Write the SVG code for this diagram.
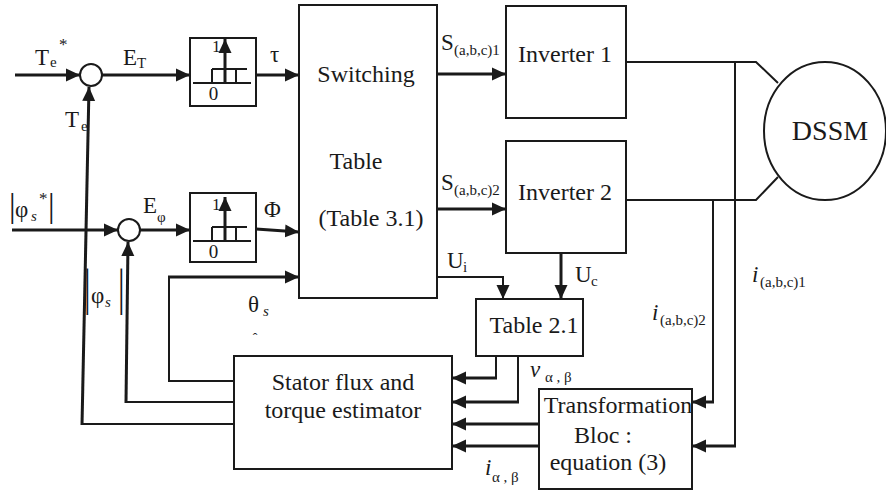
<svg xmlns="http://www.w3.org/2000/svg" width="886" height="491" viewBox="0 0 886 491" font-family="Liberation Serif, DejaVu Serif, serif">
<defs>
<style>
.box{fill:#fff;stroke:#1a1a1a;stroke-width:2}
.w{fill:none;stroke:#1a1a1a;stroke-width:2}
.t{fill:none;stroke:#1a1a1a;stroke-width:3}
.a{marker-end:url(#ah)}
text{font-family:Liberation Serif, DejaVu Serif, serif;fill:#1a1a1a}
.big{font-size:24px}
.lbl{font-size:23px}
.sub{font-size:15px}
.it{font-style:italic}
</style>
<marker id="ah" markerWidth="14" markerHeight="14" refX="14" refY="7" orient="auto" markerUnits="userSpaceOnUse">
<path d="M0,0.5 L14,7 L0,13.5 z" fill="#1a1a1a"/>
</marker>
<g id="hyst">
<path class="w" d="M3,45 H61 M22,31 H57 M22,31 V45 M46,31 V45" stroke-width="1.5"/>
<path class="t a" d="M35,45 V1"/>
<text x="22" y="14" font-size="17">1</text>
<text x="23.5" y="62" text-anchor="middle" font-size="19">0</text>
</g>
</defs>
<rect width="886" height="491" fill="#fff"/>

<g id="sum1"><circle cx="91" cy="75" r="11" class="box"/></g>
<g id="sum2"><circle cx="129" cy="230" r="11" class="box"/></g>
<g id="hyst1"><rect x="190" y="38" width="66" height="68" class="box"/><use href="#hyst" x="190" y="38"/></g>
<g id="hyst2"><rect x="190" y="193" width="66" height="69" class="box"/><use href="#hyst" x="190" y="196"/></g>
<g id="switching"><rect x="299" y="5" width="138" height="293" class="box"/>
<text x="366" y="82" text-anchor="middle" class="big">Switching</text>
<text x="356" y="169" text-anchor="middle" class="big">Table</text>
<text x="371" y="226" text-anchor="middle" class="big">(Table 3.1)</text></g>
<g id="inverter1"><rect x="506" y="6" width="120" height="112" class="box"/>
<text x="565" y="62" text-anchor="middle" class="big">Inverter 1</text></g>
<g id="inverter2"><rect x="506" y="141" width="120" height="112" class="box"/>
<text x="565" y="200" text-anchor="middle" class="big">Inverter 2</text></g>
<g id="dssm"><ellipse cx="825" cy="131" rx="61" ry="69" class="box"/>
<text x="830" y="140" text-anchor="middle" font-size="28">DSSM</text></g>
<g id="table21"><rect x="476" y="299" width="107" height="57" class="box"/>
<text x="534" y="333" text-anchor="middle" class="big">Table 2.1</text></g>
<g id="estimator"><rect x="234" y="356" width="218" height="113" class="box"/>
<text x="343" y="390" text-anchor="middle" class="big">Stator flux and</text>
<text x="343" y="418" text-anchor="middle" class="big">torque estimator</text></g>
<g id="transformation"><rect x="539" y="389" width="153" height="100" class="box"/>
<text x="618" y="413" text-anchor="middle" class="big">Transformation</text>
<text x="603" y="443" text-anchor="middle" class="big">Bloc :</text>
<text x="608" y="470" text-anchor="middle" class="big">equation (3)</text></g>

<g id="connectors">
<path class="t a" d="M15,75 H80"/>
<path class="t a" d="M102,75 H190"/>
<path class="t a" d="M256,75 H299"/>
<path class="t a" d="M12,230 H118"/>
<path class="t a" d="M140,230 H190"/>
<path class="t a" d="M256,229 L299,232"/>
<path class="w" d="M234,381 H169 V277"/>
<path class="t a" d="M168,277 H299"/>
<path class="w" d="M234,402 H126"/>
<path class="t a" d="M126,403 L128,242"/>
<path class="w" d="M234,424 H82"/>
<path class="t a" d="M82,425 L89,87"/>
<path class="t a" d="M437,74 H506"/>
<path class="t a" d="M437,209 H506"/>
<path class="w a" d="M437,277 H503 V299"/>
<path class="t a" d="M561,253 V299"/>
<path class="w" d="M626,62 H756 L778,83"/>
<path class="w" d="M626,200 H756 L778,177"/>
<path class="w" d="M735,62 V446"/>
<path class="t a" d="M736,446 H692"/>
<path class="w" d="M713,200 V402"/>
<path class="t a" d="M714,402 H692"/>
<path class="w" d="M496,356 V378"/>
<path class="t a" d="M497,378 H452"/>
<path class="w" d="M518,356 V402"/>
<path class="t a" d="M519,402 H452"/>
<path class="t a" d="M539,424 H452"/>
<path class="t a" d="M539,446 H452"/>
</g>

<g id="labels">
<text class="lbl" x="35" y="65">T</text><text class="sub" x="50" y="67">e</text><text x="59" y="50" font-size="17">*</text>
<text class="lbl" x="123" y="65">E</text><text class="sub" x="137" y="68">T</text>
<text class="lbl" x="270" y="62">τ</text>
<text class="lbl" x="65" y="127">T</text><text class="sub" x="81" y="131">e</text>
<text x="9" y="217" font-size="33">|</text>
<text class="lbl" x="15" y="217">φ</text><text class="sub it" x="31" y="221">s</text><text x="39" y="204" font-size="17">*</text>
<text x="48" y="217" font-size="33">|</text>
<text class="lbl" x="143" y="213">E</text><text class="sub" x="157" y="222">φ</text>
<text class="lbl" x="264" y="217">Φ</text>
<text transform="translate(84,304) scale(1,1.55)" font-size="33">|</text>
<text class="lbl" x="91" y="303">φ</text><text class="sub it" x="105" y="307">s</text>
<text transform="translate(118,304) scale(1,1.55)" font-size="33">|</text>
<text class="lbl" x="248" y="312">θ</text><text class="sub it" x="263" y="316" font-size="17">s</text>
<text x="255" y="343" text-anchor="middle" font-size="14">ˆ</text>
<text class="lbl" x="441" y="50">S</text><text class="sub" x="454" y="55">(a,b,c)1</text>
<text class="lbl" x="441" y="190">S</text><text class="sub" x="454" y="195">(a,b,c)2</text>
<text class="lbl" x="447" y="268">U</text><text class="sub" x="463" y="272">i</text>
<text class="lbl" x="575" y="282">U</text><text class="sub" x="591" y="286">c</text>
<text class="lbl it" x="752" y="282">i</text><text class="sub" x="760" y="287">(a,b,c)1</text>
<text class="lbl it" x="652" y="320">i</text><text class="sub" x="660" y="325">(a,b,c)2</text>
<text class="lbl it" x="530" y="377">v</text><text class="sub" x="545" y="382">α , β</text>
<text class="lbl it" x="485" y="475">i</text><text class="sub" x="492" y="482">α , β</text>
</g>
</svg>
